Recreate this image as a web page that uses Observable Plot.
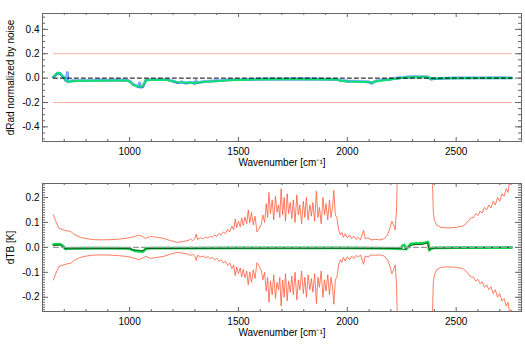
<!DOCTYPE html>
<html><head><meta charset="utf-8">
<script src="https://cdn.jsdelivr.net/npm/d3@7"></script>
<script src="https://cdn.jsdelivr.net/npm/@observablehq/plot@0.6"></script>
<style>body{margin:0;background:#fff}#c{width:525px}</style>
</head><body><div id="c"></div>
<script>
// ---- data (wavenumber, value) ----
const xMajor = [1000, 1500, 2000, 2500];
const xMinor = [600,700,800,900,1100,1200,1300,1400,1600,1700,1800,1900,2100,2200,2300,2400,2600,2700,2800];
const topYMajor = [-0.4, -0.2, 0.0, 0.2, 0.4];
const botYMajor = [-0.2, -0.1, 0.0, 0.1, 0.2];
const refSpan = [650, 2755];
const topLimits = [0.2, -0.2];

const topBlue = [[650,0.008],[660,0.025],[668,0.040],[680,0.038],[690,0.018],[700,0.0],[708,-0.022],[714,0.045],[717,-0.028],[740,-0.022],[780,-0.018],[820,-0.020],[860,-0.016],[900,-0.018],[940,-0.016],[990,-0.018],[1005,-0.030],[1015,-0.050],[1027,-0.060],[1040,-0.072],[1046,-0.040],[1050,-0.075],[1060,-0.072],[1068,-0.045],[1075,-0.015],[1100,-0.014],[1150,-0.012],[1175,-0.014],[1200,-0.025],[1220,-0.038],[1240,-0.032],[1260,-0.042],[1280,-0.034],[1300,-0.044],[1305,-0.020],[1310,-0.038],[1350,-0.028],[1400,-0.022],[1450,-0.016],[1500,-0.012],[1550,-0.010],[1600,-0.008],[1700,-0.008],[1800,-0.006],[1900,-0.009],[1950,-0.010],[1970,-0.020],[2000,-0.025],[2050,-0.026],[2080,-0.030],[2100,-0.032],[2113,-0.042],[2125,-0.028],[2150,-0.018],[2200,-0.008],[2230,0.000],[2260,0.006],[2300,0.010],[2330,0.013],[2360,0.010],[2375,0.006],[2383,-0.008],[2400,-0.005],[2450,-0.001],[2500,0.001],[2600,0.001],[2700,0.002],[2755,0.001]];

const topGreen = [[650,0.011],[660,0.030],[670,0.045],[680,0.042],[690,0.020],[700,0.005],[710,-0.025],[720,-0.030],[740,-0.025],[780,-0.022],[850,-0.021],[900,-0.020],[950,-0.019],[990,-0.020],[1005,-0.035],[1015,-0.055],[1027,-0.063],[1040,-0.068],[1050,-0.070],[1060,-0.066],[1068,-0.040],[1075,-0.018],[1100,-0.016],[1150,-0.015],[1175,-0.016],[1200,-0.028],[1220,-0.033],[1240,-0.035],[1260,-0.038],[1280,-0.036],[1300,-0.040],[1320,-0.034],[1350,-0.030],[1400,-0.025],[1450,-0.018],[1500,-0.015],[1550,-0.013],[1600,-0.011],[1700,-0.010],[1800,-0.010],[1900,-0.011],[1950,-0.012],[1970,-0.022],[2000,-0.028],[2050,-0.030],[2080,-0.032],[2100,-0.034],[2113,-0.038],[2125,-0.030],[2150,-0.022],[2200,-0.012],[2230,-0.003],[2260,0.004],[2300,0.007],[2330,0.010],[2360,0.008],[2375,0.004],[2383,-0.006],[2400,-0.004],[2450,-0.002],[2500,-0.001],[2600,0.000],[2700,0.001],[2755,0.000]];

const noiseEnvelope = [[650,0.131],[660,0.107],[675,0.077],[700,0.069],[730,0.063],[750,0.050],[775,0.040],[800,0.035],[835,0.031],[870,0.030],[912,0.031],[950,0.033],[990,0.037],[1020,0.043],[1042,0.049],[1058,0.044],[1074,0.036],[1096,0.044],[1127,0.040],[1157,0.036],[1188,0.027],[1219,0.020],[1250,0.024],[1270,0.028],[1280,0.033],[1290,0.027],[1300,0.036],[1306,0.053],[1312,0.032],[1326,0.038],[1340,0.035],[1350,0.042],[1360,0.037],[1370,0.045],[1380,0.040],[1390,0.050],[1400,0.044],[1410,0.056],[1420,0.050],[1430,0.062],[1440,0.055],[1450,0.072],[1460,0.062],[1470,0.085],[1478,0.070],[1485,0.113],[1492,0.078],[1500,0.105],[1508,0.082],[1515,0.118],[1522,0.088],[1530,0.122],[1538,0.095],[1545,0.150],[1552,0.098],[1560,0.140],[1568,0.090],[1576,0.125],[1585,0.062],[1595,0.075],[1605,0.093],[1612,0.130],[1620,0.100],[1628,0.175],[1634,0.120],[1640,0.220],[1647,0.135],[1655,0.190],[1662,0.110],[1670,0.205],[1677,0.140],[1684,0.170],[1690,0.120],[1696,0.235],[1703,0.130],[1710,0.200],[1716,0.105],[1724,0.215],[1730,0.135],[1738,0.180],[1745,0.115],[1752,0.190],[1760,0.100],[1768,0.210],[1775,0.130],[1782,0.170],[1790,0.095],[1798,0.185],[1805,0.120],[1812,0.200],[1820,0.110],[1828,0.170],[1835,0.125],[1842,0.180],[1850,0.105],[1858,0.225],[1865,0.120],[1872,0.160],[1880,0.095],[1888,0.200],[1895,0.130],[1902,0.175],[1910,0.110],[1918,0.190],[1925,0.120],[1932,0.160],[1938,0.228],[1945,0.130],[1952,0.120],[1960,0.070],[1968,0.050],[1975,0.060],[1982,0.040],[1990,0.055],[2000,0.038],[2010,0.050],[2020,0.035],[2030,0.045],[2040,0.032],[2050,0.040],[2060,0.030],[2075,0.068],[2082,0.035],[2095,0.038],[2110,0.030],[2130,0.032],[2150,0.030],[2170,0.035],[2185,0.050],[2195,0.075],[2205,0.105],[2212,0.090],[2220,0.070],[2226,0.150],[2230,0.300],[2235,1.0],[2385,1.0],[2390,0.300],[2395,0.140],[2400,0.110],[2410,0.090],[2430,0.080],[2460,0.078],[2500,0.080],[2530,0.085],[2545,0.095],[2555,0.105],[2567,0.118],[2580,0.120],[2590,0.135],[2600,0.128],[2610,0.145],[2620,0.138],[2630,0.160],[2640,0.150],[2650,0.170],[2660,0.158],[2670,0.185],[2680,0.170],[2690,0.200],[2700,0.185],[2710,0.215],[2720,0.205],[2730,0.235],[2738,0.220],[2745,0.260],[2752,0.250],[2760,0.280]];

const botGreen = [[650,0.011],[665,0.013],[683,0.012],[695,0.005],[706,-0.007],[720,-0.004],[800,-0.003],[900,-0.003],[1000,-0.004],[1010,-0.010],[1025,-0.014],[1045,-0.016],[1060,-0.017],[1068,-0.012],[1075,-0.004],[1100,-0.003],[1200,-0.003],[1300,-0.003],[1500,-0.002],[1700,-0.002],[1900,-0.002],[2000,-0.002],[2100,-0.003],[2200,-0.004],[2245,-0.006],[2254,0.008],[2262,0.010],[2270,-0.008],[2282,0.004],[2291,0.014],[2320,0.016],[2350,0.017],[2368,0.022],[2372,0.020],[2376,-0.012],[2385,-0.004],[2400,-0.002],[2500,-0.001],[2600,-0.001],[2755,-0.001]];
const botDark = [[650,0.008],[683,0.010],[700,-0.004],[720,-0.006],[900,-0.005],[1000,-0.005],[1025,-0.011],[1045,-0.012],[1060,-0.014],[1075,-0.005],[1300,-0.004],[1700,-0.003],[2100,-0.004],[2245,-0.004],[2260,-0.010],[2280,0.002],[2300,0.010],[2350,0.013],[2368,0.018],[2376,-0.008],[2400,-0.003],[2600,-0.001],[2755,0.000]];

// ---- drawing ----
const W = 525, ML = 42, MR = 4, PW = W - ML - MR, PH = 128;
const axisGrey = "#666";
const font = "Liberation Sans, Arial, Helvetica, sans-serif";
const fmt = d => d.toFixed(1);
const xy = {x: d => d[0], y: d => d[1]};

function tickMarks(yMajor, yMinor) {
  return [
    Plot.ruleX(xMajor, {x: d => d, insetTop: PH - 4, stroke: axisGrey}),
    Plot.ruleX(xMajor, {x: d => d, insetBottom: PH - 4, stroke: axisGrey}),
    Plot.ruleX(xMinor, {x: d => d, insetTop: PH - 2, stroke: axisGrey}),
    Plot.ruleX(xMinor, {x: d => d, insetBottom: PH - 2, stroke: axisGrey}),
    Plot.ruleY(yMajor, {y: d => d, insetRight: PW - 6, stroke: axisGrey}),
    Plot.ruleY(yMajor, {y: d => d, insetLeft: PW - 6, stroke: axisGrey}),
    Plot.ruleY(yMinor, {y: d => d, insetRight: PW - 3, stroke: axisGrey}),
    Plot.ruleY(yMinor, {y: d => d, insetLeft: PW - 3, stroke: axisGrey}),
    Plot.frame({stroke: axisGrey}),
    Plot.axisX(xMajor, {anchor: "bottom", tickSize: 0, tickPadding: 6, label: null, tickFormat: d => String(d), fill: "black"}),
    Plot.axisY(yMajor, {anchor: "left", tickSize: 0, tickPadding: 3, label: null, tickFormat: fmt, fill: "black"}),
    Plot.text(["Wavenumber [cm⁻¹]"], {frameAnchor: "bottom", lineAnchor: "middle", dy: 21, text: d => d, fill: "black"}),
  ];
}

function panel(opts) {
  return Plot.plot({
    width: W, height: opts.height, marginLeft: ML, marginRight: MR,
    marginTop: opts.mt, marginBottom: opts.mb,
    style: {fontFamily: font, fontSize: "10px", background: "#fff", color: "black"},
    x: {domain: [600, 2800]},
    y: {domain: opts.yDomain},
    marks: [
      ...opts.marks,
      ...tickMarks(opts.yMajor, opts.yMinor),
      Plot.text([opts.ylabel], {frameAnchor: "left", textAnchor: "middle", lineAnchor: "middle", dx: -32, rotate: -90, text: d => d, fill: "black"})
    ]
  });
}

const topMinor = d3.range(-10, 11).map(i => i * 0.05);
const botMinor = d3.range(-25, 26).map(i => i / 100);

const topPanel = panel({
  height: 172, mt: 13, mb: 31, yDomain: [-0.52, 0.53],
  yMajor: topYMajor, yMinor: topMinor, ylabel: "dRad normalized by noise",
  marks: [
    ...topLimits.map(v => Plot.line(refSpan, {x: d => d, y: () => v, stroke: "#ffb0a4", strokeWidth: 1})),
    Plot.line(topBlue, {...xy, stroke: "#3a6cff", strokeWidth: 2.6}),
    Plot.line(topBlue, {...xy, stroke: "#8cc4ff", strokeWidth: 1, dy: -1}),
    Plot.line(topGreen, {...xy, stroke: "#10e070", strokeWidth: 2}),
    Plot.line(refSpan, {x: d => d, y: () => 0, stroke: "black", strokeDasharray: "4,3", strokeWidth: 1})
  ]
});

const botPanel = panel({
  height: 173, mt: 11, mb: 34, yDomain: [-0.257, 0.256],
  yMajor: botYMajor, yMinor: botMinor, ylabel: "dTB [K]",
  marks: [
    Plot.line(noiseEnvelope, {...xy, stroke: "#ff5a3c", strokeWidth: 0.8, clip: true}),
    Plot.line(noiseEnvelope, {x: d => d[0], y: d => -d[1], stroke: "#ff5a3c", strokeWidth: 0.8, clip: true}),
    Plot.line(botGreen, {...xy, stroke: "#10d850", strokeWidth: 2.6}),
    Plot.line(botDark, {...xy, stroke: "#0a5a1a", strokeWidth: 1}),
    Plot.line(refSpan, {x: d => d, y: () => 0, stroke: "#999", strokeDasharray: "5,3", strokeWidth: 1.2})
  ]
});

document.getElementById("c").append(topPanel, botPanel);
</script>
</body></html>
